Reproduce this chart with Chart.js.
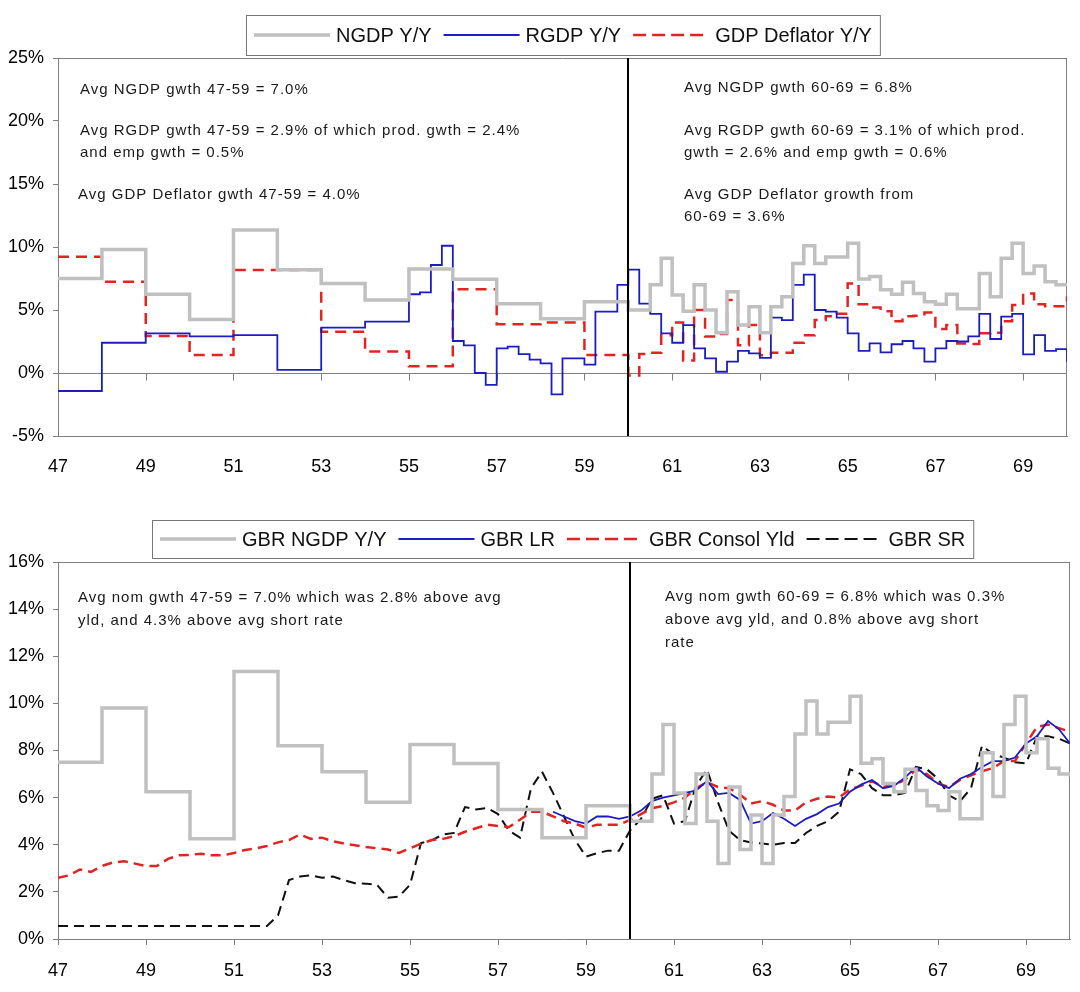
<!DOCTYPE html>
<html>
<head>
<meta charset="utf-8">
<script src="https://cdn.jsdelivr.net/npm/chart.js@4.4.1/dist/chart.umd.min.js"></script>
<style>
  html, body { margin: 0; padding: 0; background: #fff; }
  #wrap { position: relative; width: 1080px; height: 992px; }
  .panel { position: absolute; left: 0; width: 1080px; }
</style>
</head>
<body>
<div id="wrap">
  <div class="panel" style="top:0;height:490px"><canvas id="gdpChart" width="1080" height="490"></canvas></div>
  <div class="panel" style="top:490px;height:502px"><canvas id="rateChart" width="1080" height="502"></canvas></div>
</div>
<script>
// quarterly dates 47.00 ... 70.00
const quarters = [];
for (let i = 0; i <= 92; i++) quarters.push(47 + i / 4);

const tickYears = [47, 49, 51, 53, 55, 57, 59, 61, 63, 65, 67, 69];
const splitYear = 60;

// top panel, % y/y
const ngdpYY = [
  7.5, 7.5, 7.5, 7.5,  9.8, 9.8, 9.8, 9.8,  6.25, 6.25, 6.25, 6.25,  4.25, 4.25, 4.25, 4.25,
  11.35, 11.35, 11.35, 11.35,  8.2, 8.2, 8.2, 8.2,  7.1, 7.1, 7.1, 7.1,  5.8, 5.8, 5.8, 5.8,
  8.25, 8.25, 8.25, 8.25,  7.45, 7.45, 7.45, 7.45,  5.5, 5.5, 5.5, 5.5,  4.3, 4.3, 4.3, 4.3,
  5.65, 5.65, 5.65, 5.65,
  5.0, 5.0, 7.0, 9.1,  6.2, 4.9, 7.0, 5.0,  3.2, 6.45, 3.8, 5.26,  3.2, 5.26, 6.05, 8.7,
  10.1, 8.7, 9.2, 9.2,  10.3, 7.46, 7.65, 6.6,  6.25, 7.2, 6.3, 5.66,  5.45, 6.25, 5.1, 5.1,
  7.9, 6.05, 9.1, 10.3,  7.9, 8.5, 7.25, 7.0,  6.9
];
const rgdpYY = [
  -1.43, -1.43, -1.43, -1.43,  2.4, 2.4, 2.4, 2.4,  3.15, 3.15, 3.15, 3.15,  2.9, 2.9, 2.9, 2.9,
  3.0, 3.0, 3.0, 3.0,  0.25, 0.25, 0.25, 0.25,  3.6, 3.6, 3.6, 3.6,  4.07, 4.07, 4.07, 4.07,
  6.25, 6.4, 8.57, 10.1,  2.54, 2.2, 0.0, -0.95,  1.96, 2.1, 1.5, 1.06,  0.77, -1.7, 1.16, 1.16,
  0.66, 4.87, 4.87, 7.0,
  8.2, 5.5, 4.7, 3.15,  2.4, 3.8, 1.96, 1.16,  0.1, 0.9, 1.75, 1.56,  1.2, 4.4, 4.2, 7.0,
  7.8, 5.0, 4.87, 4.4,  3.15, 1.75, 2.35, 1.64,  2.28, 2.54, 1.96, 0.9,  1.96, 2.54, 2.5, 2.9,
  4.7, 2.7, 4.47, 4.7,  1.48, 3.0, 1.75, 1.9,  0.9
];
const deflatorYY = [
  9.23, 9.23, 9.23, 9.23,  7.25, 7.25, 7.25, 7.25,  2.94, 2.94, 2.94, 2.94,  1.43, 1.43, 1.43, 1.43,
  8.17, 8.17, 8.17, 8.17,  8.17, 8.17, 8.17, 8.17,  3.28, 3.28, 3.28, 3.28,  1.7, 1.7, 1.7, 1.7,
  0.53, 0.53, 0.53, 0.53,  6.64, 6.64, 6.64, 6.64,  3.86, 3.86, 3.86, 3.86,  4.0, 4.0, 4.0, 4.0,
  1.43, 1.43, 1.43, 1.43,
  -0.2, 1.5, 1.6, 3.0,  4.0, 1.0, 5.0, 2.9,  3.1, 5.8, 2.2, 3.8,  1.4, 1.6, 1.6, 2.4,
  3.0, 4.2, 4.5, 4.7,  7.1, 5.45, 5.2, 4.9,  4.1, 4.5, 4.55, 4.8,  3.5, 3.8, 2.35, 2.3,
  3.15, 3.2, 4.1, 5.4,  6.3, 5.45, 5.3, 5.3,  6.1
];

// bottom panel, %
const gbrLR = [
  null, null, null, null,  null, null, null, null,  null, null, null, null,  null, null, null, null,
  null, null, null, null,  null, null, null, null,  null, null, null, null,  null, null, null, null,
  null, null, null, null,  null, null, null, null,  null, null, null, null,  null, 5.4, 5.2, 5.0,
  4.9, 5.2, 5.2, 5.1,
  5.2, 5.45, 5.85, 6.0,  6.1, 6.2, 6.3, 6.7,  6.15, 6.2, 5.9, 4.9,  5.0, 5.35, 5.1, 4.8,
  5.1, 5.3, 5.6, 5.75,  6.25, 6.55, 6.75, 6.4,  6.5, 6.85, 7.3, 6.9,  6.6, 6.4, 6.8, 7.0,
  7.3, 7.55, 7.55, 7.7,  8.3, 8.6, 9.25, 8.9,  8.3
];
const consolYld = [
  2.6, 2.7, 2.95, 2.85,  3.1, 3.25, 3.3, 3.2,  3.1, 3.1, 3.4, 3.55,  3.57, 3.62, 3.55, 3.55,
  3.65, 3.78, 3.85, 3.95,  4.1, 4.2, 4.43, 4.25,  4.3, 4.15, 4.05, 3.98,  3.9, 3.85, 3.8, 3.65,
  3.85, 4.05, 4.2, 4.25,  4.36, 4.55, 4.7, 4.85,  4.8, 4.75, 5.06, 5.4,  5.4, 5.2, 5.0, 4.9,
  4.72, 4.85, 4.85, 4.85,
  5.06, 5.3, 5.55, 5.65,  5.8, 6.0, 6.4, 6.65,  6.45, 6.4, 6.13, 5.75,  5.85, 5.7, 5.45, 5.45,
  5.8, 5.95, 6.05, 6.0,  6.35, 6.5, 6.7, 6.45,  6.55, 6.75, 7.2, 7.0,  6.6, 6.45, 6.75, 6.95,
  7.12, 7.26, 7.55, 7.55,  8.3, 9.0, 9.1, 8.95,  8.8
];
const gbrSR = [
  0.55, 0.55, 0.55, 0.55,  0.55, 0.55, 0.55, 0.55,  0.55, 0.55, 0.55, 0.55,  0.55, 0.55, 0.55, 0.55,
  0.55, 0.55, 0.55, 0.55,  1.0, 2.5, 2.65, 2.7,  2.6, 2.65, 2.5, 2.37,  2.35, 2.3, 1.75, 1.8,
  2.3, 4.07, 4.2, 4.43,  4.5, 5.6, 5.5, 5.56,  5.3, 4.6, 4.3, 6.4,  7.1, 6.2, 5.2, 4.2,
  3.5, 3.64, 3.75, 3.75,
  4.6, 5.1, 5.95, 6.1,  4.9, 5.0, 6.5, 7.2,  5.8, 4.6, 4.2, 4.1,  4.05, 4.0, 4.07, 4.07,
  4.5, 4.8, 5.0, 5.4,  7.2, 7.0, 6.4, 6.1,  6.1, 6.2, 7.3, 7.2,  6.8, 6.1, 5.84, 6.4,
  8.2, 7.85, 7.7, 7.5,  7.45, 8.6, 8.6, 8.5,  8.3
];

const topNotes = [
  { x: 80, y: 90, text: 'Avg NGDP gwth 47-59 = 7.0%' },
  { x: 80, y: 131, text: 'Avg RGDP gwth 47-59 = 2.9% of which prod. gwth = 2.4%' },
  { x: 80, y: 153, text: 'and emp gwth = 0.5%' },
  { x: 78, y: 195, text: 'Avg GDP Deflator gwth 47-59 = 4.0%' },
  { x: 684, y: 88, text: 'Avg NGDP gwth 60-69 = 6.8%' },
  { x: 684, y: 131, text: 'Avg RGDP gwth 60-69 = 3.1% of which prod.' },
  { x: 684, y: 153, text: 'gwth = 2.6% and emp gwth = 0.6%' },
  { x: 684, y: 195, text: 'Avg GDP Deflator growth from' },
  { x: 684, y: 217, text: '60-69 = 3.6%' }
];
const bottomNotes = [
  { x: 78, y: 108, text: 'Avg nom gwth 47-59 = 7.0% which was 2.8% above avg' },
  { x: 78, y: 131, text: 'yld, and 4.3% above avg short rate' },
  { x: 665, y: 107, text: 'Avg nom gwth 60-69 = 6.8% which was 0.3%' },
  { x: 665, y: 130, text: 'above avg yld, and 0.8% above avg short' },
  { x: 665, y: 153, text: 'rate' }
];

const FONT = '"Liberation Sans", Arial, sans-serif';
Chart.defaults.font.family = FONT;
Chart.defaults.color = '#000';

function pts(values) {
  return quarters.map((q, i) => ({ x: q, y: values[i] }));
}

function drawLegend(ctx, chart, cy, h) {
  ctx.font = '20px ' + FONT;
  const sample = 76, gapA = 6, gapB = 12, pad = 8;
  const sets = chart.data.datasets;
  let total = pad * 2;
  sets.forEach((d, i) => {
    total += sample + gapA + ctx.measureText(d.label).width + (i < sets.length - 1 ? gapB : 0);
  });
  let x = Math.round(563 - total / 2);
  ctx.fillStyle = '#fff';
  ctx.fillRect(x, cy - h / 2, total, h);
  ctx.strokeStyle = '#777';
  ctx.lineWidth = 1;
  ctx.setLineDash([]);
  ctx.strokeRect(x + 0.5, cy - h / 2 + 0.5, total, h);
  x += pad;
  sets.forEach(d => {
    ctx.strokeStyle = d.borderColor;
    ctx.lineWidth = d.borderWidth;
    ctx.setLineDash(d.borderDash ? [13, 6] : []);
    ctx.beginPath();
    ctx.moveTo(x, cy);
    ctx.lineTo(x + sample, cy);
    ctx.stroke();
    x += sample + gapA;
    ctx.fillStyle = '#111';
    ctx.textBaseline = 'middle';
    ctx.fillText(d.label, x, cy + 1);
    x += ctx.measureText(d.label).width + gapB;
  });
  ctx.setLineDash([]);
}

const panelDecor = {
  id: 'panelDecor',
  beforeDatasetsDraw(chart, args, opts) {
    const { ctx, chartArea: a, scales: { x, y } } = chart;
    ctx.save();
    ctx.strokeStyle = '#808080';
    ctx.lineWidth = 1;
    ctx.beginPath();
    ctx.moveTo(a.left, a.top + 0.5);
    ctx.lineTo(a.right, a.top + 0.5);
    ctx.moveTo(a.right - 0.5, a.top);
    ctx.lineTo(a.right - 0.5, a.bottom);
    if (opts.zeroLine) {
      const y0 = Math.round(y.getPixelForValue(0)) + 0.5;
      ctx.moveTo(a.left, y0);
      ctx.lineTo(a.right, y0);
      tickYears.forEach(t => {
        const px = Math.round(x.getPixelForValue(t)) + 0.5;
        ctx.moveTo(px, y0);
        ctx.lineTo(px, y0 + 7);
      });
    }
    ctx.stroke();
    ctx.restore();
  },
  afterDatasetsDraw(chart, args, opts) {
    const { ctx, chartArea: a, scales: { x } } = chart;
    ctx.save();
    const xs = Math.round(x.getPixelForValue(splitYear));
    ctx.strokeStyle = '#000';
    ctx.lineWidth = 2;
    ctx.beginPath();
    ctx.moveTo(xs, a.top);
    ctx.lineTo(xs, a.bottom);
    ctx.stroke();

    ctx.font = '15px ' + FONT;
    ctx.letterSpacing = '1px';
    ctx.fillStyle = '#1a1a1a';
    ctx.textBaseline = 'middle';
    opts.notes.forEach(n => ctx.fillText(n.text, n.x, n.y));
    ctx.letterSpacing = '0px';

    drawLegend(ctx, chart, opts.legendY, opts.legendH);
    ctx.restore();
  }
};

function makeOptions(yMin, yMax, yStep, xHeight, topPad, rightPad, xTicks, decor) {
  return {
    responsive: false,
    animation: false,
    layout: { padding: { top: topPad, right: rightPad, left: 0, bottom: 0 } },
    plugins: { legend: { display: false }, tooltip: { enabled: false }, panelDecor: decor },
    elements: { point: { radius: 0 }, line: { tension: 0 } },
    scales: {
      x: {
        type: 'linear',
        min: 47,
        max: 70,
        afterBuildTicks: s => { s.ticks = tickYears.map(v => ({ value: v })); },
        afterFit: s => { s.height = xHeight; },
        grid: { drawOnChartArea: false, drawTicks: xTicks, tickLength: 6, color: '#808080' },
        border: { display: true, color: '#808080' },
        ticks: { font: { size: 18 }, color: '#000', padding: xTicks ? 15 : 20, maxRotation: 0, callback: v => String(v) }
      },
      y: {
        min: yMin,
        max: yMax,
        afterFit: s => { s.width = 58; },
        grid: { drawOnChartArea: false, drawTicks: true, tickLength: 5, color: '#808080' },
        border: { display: true, color: '#808080' },
        ticks: { stepSize: yStep, font: { size: 18 }, color: '#000', padding: 9, callback: v => v + '%' }
      }
    }
  };
}

new Chart(document.getElementById('gdpChart').getContext('2d'), {
  type: 'line',
  data: {
    datasets: [
      { label: 'NGDP Y/Y', data: pts(ngdpYY), borderColor: '#c0c0c0', borderWidth: 3.5, stepped: true },
      { label: 'RGDP Y/Y', data: pts(rgdpYY), borderColor: '#1c1cc0', borderWidth: 1.8, stepped: true },
      { label: 'GDP Deflator Y/Y', data: pts(deflatorYY), borderColor: '#e02424', borderWidth: 2.5, borderDash: [11, 7], stepped: true }
    ]
  },
  options: makeOptions(-5, 25, 5, 54, 58, 13, false,
    { notes: topNotes, zeroLine: true, legendY: 35, legendH: 40 }),
  plugins: [panelDecor]
});

new Chart(document.getElementById('rateChart').getContext('2d'), {
  type: 'line',
  data: {
    datasets: [
      { label: 'GBR NGDP Y/Y', data: pts(ngdpYY), borderColor: '#c0c0c0', borderWidth: 3.5, stepped: true },
      { label: 'GBR LR', data: pts(gbrLR), borderColor: '#1c1cc0', borderWidth: 1.8 },
      { label: 'GBR Consol Yld', data: pts(consolYld), borderColor: '#e02424', borderWidth: 2.5, borderDash: [10, 6] },
      { label: 'GBR SR', data: pts(gbrSR), borderColor: '#111', borderWidth: 2, borderDash: [10, 6] }
    ]
  },
  options: makeOptions(0, 16, 2, 53, 72, 10, true,
    { notes: bottomNotes, zeroLine: false, legendY: 49, legendH: 38 }),
  plugins: [panelDecor]
});
</script>
</body>
</html>
